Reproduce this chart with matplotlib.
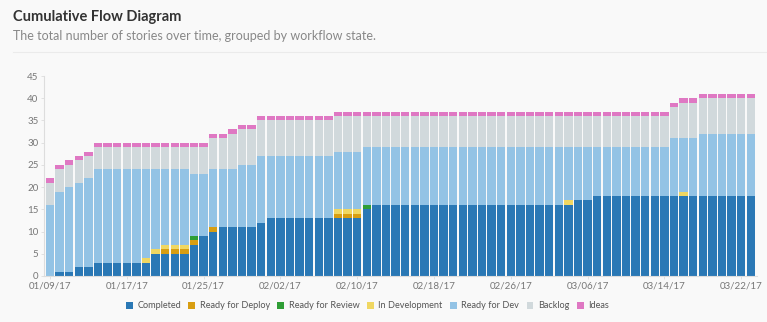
import numpy as np
import pandas as pd
import matplotlib.pyplot as plt
from matplotlib.patches import Patch

plt.rcParams['font.family'] = ['Lato', 'DejaVu Sans']

dates = pd.date_range("2017-01-09", "2017-03-23", freq="D")

# counts per state, one value per day
completed = ([0, 1, 1, 2, 2, 3, 3, 3, 3, 3, 3, 5, 5, 5, 5, 7, 9, 10, 11, 11, 11, 11, 12]
             + [13] * 7 + [13, 13, 13, 15] + [16] * 20
             + [16, 17, 17] + [18] * 17)
ready_deploy = ([0] * 12 + [1, 1, 1, 1, 0, 1] + [0] * 5
                + [0] * 7 + [1, 1, 1, 0] + [0] * 20
                + [0] * 3 + [0] * 17)
ready_review = ([0] * 15 + [1] + [0] * 7
                + [0] * 7 + [0, 0, 0, 1] + [0] * 20
                + [0] * 3 + [0] * 17)
in_dev = ([0] * 10 + [1, 1, 1, 1, 1] + [0] * 8
          + [0] * 7 + [1, 1, 1, 0] + [0] * 20
          + [0] * 3 + [0] * 8 + [0, 1] + [0] * 7)
# 03/04 has one story in development
in_dev[54] = 1
ready_dev = ([16, 18, 19, 19, 20, 21, 21, 21, 21, 21, 20, 18, 17, 17, 17, 14, 14, 13, 13, 13, 14, 14, 15]
             + [14] * 7 + [13, 13, 13, 13] + [13] * 20
             + [12, 12, 12] + [11] * 8 + [13, 12, 13] + [14] * 6)
ready_dev[54] = 12
backlog = ([5, 5, 5, 5, 5, 5, 5, 5, 5, 5, 5, 5, 5, 5, 5, 6, 6, 7, 7, 8, 8, 8, 8]
           + [8] * 7 + [8, 8, 8, 7] + [7] * 20
           + [7, 7, 7] + [7] * 8 + [7, 8, 8] + [8] * 6)
ideas = [1] * len(dates)

states = ["Completed", "Ready for Deploy", "Ready for Review", "In Development",
          "Ready for Dev", "Backlog", "Ideas"]
series = [completed, ready_deploy, ready_review, in_dev, ready_dev, backlog, ideas]
colors = ["#2a78b5", "#d89e12", "#2f9e36", "#f0d762", "#93c3e5", "#d1d9dc", "#df78c3"]

bg = "#f9f9f9"
fig = plt.figure(figsize=(7.67, 3.22), dpi=100, facecolor=bg)
ax = fig.add_axes([0.0574, 0.1429, 0.9296, 0.621], facecolor=bg)

x = np.arange(len(dates))
bottom = np.zeros(len(dates))
for name, vals, c in zip(states, series, colors):
    vals = np.array(vals, dtype=float)
    ax.bar(x, vals, width=0.88, bottom=bottom, color=c, linewidth=0, label=name)
    bottom += vals

ax.set_xlim(-0.62, len(dates) - 0.35)
ax.set_ylim(0, 45)
ax.set_yticks(range(0, 46, 5))
ticks = x[::8]
ax.set_xticks(ticks)
ax.set_xticklabels([d.strftime("%m/%d/%y") for d in dates[::8]])
ax.tick_params(axis="both", labelsize=7, colors="#dddddd", length=2, width=0.6, pad=2)
for lab in ax.get_xticklabels() + ax.get_yticklabels():
    lab.set_color("#777777")
for s in ["top", "right"]:
    ax.spines[s].set_visible(False)
for s in ["left", "bottom"]:
    ax.spines[s].set_color("#dddddd")
    ax.spines[s].set_linewidth(0.8)

handles = [Patch(facecolor=c, edgecolor="none") for c in colors]
fig.legend(handles, states, loc="center", bbox_to_anchor=(0.479, 0.05), ncol=7,
           frameon=False, fontsize=6.6, handlelength=0.75, handleheight=0.75,
           handletextpad=0.5, columnspacing=0.8, labelcolor="#555555")

fig.text(0.017, 0.948, "Cumulative Flow Diagram", fontsize=10.5, fontweight="bold",
         color="#333333", va="center")
fig.text(0.017, 0.888, "The total number of stories over time, grouped by workflow state.",
         fontsize=9, color="#888888", va="center")
fig.add_artist(plt.Line2D([0.017, 1.0], [0.838, 0.838], color="#ebebeb", linewidth=0.8))

fig.savefig("out.png", dpi=100, facecolor=bg)
